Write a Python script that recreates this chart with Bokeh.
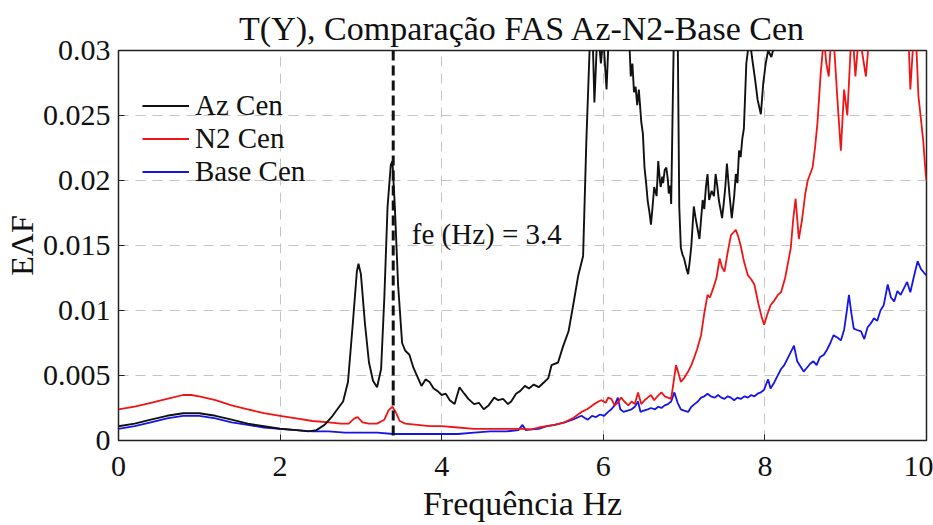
from bokeh.plotting import figure
from bokeh.models import Range1d, FixedTicker, Span, Label, Legend, LegendItem
from bokeh.embed import file_html
from bokeh.resources import INLINE

title_text = "T(Y), Comparação FAS Az-N2-Base Cen"
x_label = "Frequência Hz"
y_label = "EΛF"
series_names = ["Az Cen", "N2 Cen", "Base Cen"]
fe_value = 3.4
fe_text = "fe (Hz) = 3.4"

x_ticks = [0, 2, 4, 6, 8, 10]
y_ticks = [0, 0.005, 0.01, 0.015, 0.02, 0.025, 0.03]
y_tick_labels = ["0", "0.005", "0.01", "0.015", "0.02", "0.025", "0.03"]

az_freq = [0.0, 0.2, 0.4, 0.6, 0.8, 0.9, 1.0, 1.2, 1.4, 1.6, 1.8, 2.0, 2.2, 2.35, 2.45,
           2.55, 2.65, 2.72, 2.78, 2.84, 2.90, 2.95, 2.97, 3.00, 3.05, 3.10, 3.15, 3.20,
           3.25, 3.29, 3.33, 3.37, 3.39, 3.42, 3.46, 3.51, 3.55, 3.60, 3.65, 3.70, 3.75,
           3.80, 3.85, 3.90, 3.95, 4.00, 4.05, 4.10, 4.16, 4.22, 4.28, 4.33, 4.40, 4.46,
           4.52, 4.58, 4.65, 4.70, 4.76, 4.82, 4.86, 4.92, 4.97, 5.03, 5.08, 5.14, 5.20,
           5.27, 5.32, 5.36, 5.44, 5.50, 5.57, 5.63, 5.69, 5.75, 5.79, 5.83, 5.86, 5.89,
           5.93, 5.97, 6.00, 6.04, 6.08, 6.15, 6.25, 6.32, 6.34, 6.36, 6.38, 6.40, 6.42,
           6.44, 6.47, 6.49, 6.51, 6.53, 6.55, 6.57, 6.59, 6.61, 6.63, 6.66, 6.68, 6.70,
           6.71, 6.73, 6.74, 6.76, 6.78, 6.80, 6.81, 6.83, 6.84, 6.87, 6.89, 6.92, 6.94,
           6.96, 6.98, 7.00, 7.03, 7.05, 7.07, 7.09, 7.12, 7.14, 7.16, 7.19, 7.21, 7.23,
           7.25, 7.27, 7.29, 7.31, 7.34, 7.37, 7.39, 7.41, 7.43, 7.45, 7.47, 7.49, 7.51,
           7.53, 7.56, 7.59, 7.62, 7.64, 7.66, 7.68, 7.70, 7.72, 7.74, 7.77, 7.81, 7.84,
           7.88, 7.91, 7.95, 7.98, 8.01, 8.04, 8.08, 8.12, 8.16, 8.22, 8.40, 8.80, 10.0]
az_val = [0.0011, 0.0013, 0.0016, 0.0019, 0.0021, 0.0021, 0.0021, 0.0019, 0.0016, 0.0013,
          0.0011, 0.0009, 0.0008, 0.0007, 0.0008, 0.0012, 0.0019, 0.0025, 0.0030, 0.0045,
          0.0090, 0.0130, 0.0136, 0.0128, 0.0090, 0.0060, 0.0046, 0.0041, 0.0055, 0.0110,
          0.0180, 0.0212, 0.0215, 0.0180, 0.0120, 0.0075, 0.0069, 0.0066, 0.0056, 0.0049,
          0.0042, 0.0047, 0.0045, 0.0040, 0.0038, 0.0035, 0.0036, 0.0031, 0.0028, 0.0041,
          0.0036, 0.0032, 0.0028, 0.0029, 0.0024, 0.0027, 0.0033, 0.0031, 0.0032, 0.0028,
          0.0030, 0.0036, 0.0038, 0.0042, 0.0040, 0.0043, 0.0041, 0.0045, 0.0048, 0.0058,
          0.0060, 0.0072, 0.0084, 0.0105, 0.0127, 0.0142, 0.0230, 0.0300, 0.0330, 0.0260,
          0.0320, 0.0290, 0.0310, 0.0270, 0.0330, 0.0360, 0.0350, 0.0310, 0.0280, 0.0290,
          0.0268, 0.0272, 0.0258, 0.0270, 0.0245, 0.0236, 0.0210, 0.0198, 0.0184, 0.0176,
          0.0166, 0.0180, 0.0195, 0.0188, 0.0215, 0.0200, 0.0195, 0.0203, 0.0198, 0.0208,
          0.0210, 0.0200, 0.0190, 0.0196, 0.0182, 0.0300, 0.0340, 0.0320, 0.0180, 0.0148,
          0.0143, 0.0140, 0.0132, 0.0128, 0.0138, 0.0150, 0.0180, 0.0172, 0.0165, 0.0155,
          0.0170, 0.0185, 0.0178, 0.0195, 0.0205, 0.0185, 0.0192, 0.0188, 0.0205, 0.0196,
          0.0185, 0.0178, 0.0171, 0.0182, 0.0195, 0.0213, 0.0190, 0.0171, 0.0188, 0.0205,
          0.0198, 0.0223, 0.0218, 0.0232, 0.0240, 0.0290, 0.0310, 0.0295, 0.0277, 0.0262,
          0.0251, 0.0275, 0.0290, 0.0300, 0.0295, 0.0305, 0.0320, 0.0380, 0.0450, 0.0600]

n2_freq = [0.0, 0.2, 0.4, 0.6, 0.8, 0.9, 1.0, 1.2, 1.4, 1.6, 1.8, 2.0, 2.2, 2.4, 2.6,
           2.75, 2.85, 2.92, 2.96, 3.02, 3.10, 3.20, 3.29, 3.34, 3.39, 3.43, 3.48, 3.55,
           3.70, 3.85, 4.00, 4.20, 4.40, 4.60, 4.80, 5.00, 5.11, 5.20, 5.30, 5.40, 5.52,
           5.62, 5.73, 5.80, 5.89, 5.94, 5.98, 6.03, 6.06, 6.10, 6.14, 6.18, 6.22, 6.26,
           6.31, 6.35, 6.39, 6.43, 6.47, 6.51, 6.55, 6.59, 6.63, 6.67, 6.72, 6.76, 6.80,
           6.84, 6.87, 6.90, 6.93, 6.96, 7.00, 7.05, 7.09, 7.12, 7.16, 7.21, 7.25, 7.29,
           7.32, 7.36, 7.40, 7.44, 7.47, 7.50, 7.54, 7.58, 7.61, 7.64, 7.67, 7.70, 7.74,
           7.79, 7.83, 7.87, 7.92, 7.96, 7.99, 8.03, 8.07, 8.12, 8.16, 8.20, 8.25, 8.29,
           8.32, 8.35, 8.38, 8.42, 8.46, 8.50, 8.53, 8.56, 8.59, 8.62, 8.65, 8.69, 8.73,
           8.76, 8.79, 8.82, 8.86, 8.90, 8.94, 8.98, 9.02, 9.06, 9.09, 9.12, 9.16, 9.20,
           9.25, 9.29, 9.35, 9.50, 9.65, 9.75, 9.78, 9.80, 9.83, 9.87, 9.90, 9.93, 9.96,
           9.99, 10.0]
n2_val = [0.0024, 0.0026, 0.0029, 0.0032, 0.0035, 0.0035, 0.0034, 0.0031, 0.0027, 0.0024,
          0.0021, 0.0019, 0.0017, 0.0015, 0.0014, 0.0013, 0.0013, 0.0017, 0.0018, 0.0014,
          0.0013, 0.0013, 0.0016, 0.0023, 0.0026, 0.0022, 0.0015, 0.0013, 0.0012, 0.0011,
          0.0011, 0.0010, 0.0009, 0.0009, 0.0009, 0.0009, 0.00085, 0.0010, 0.0011, 0.0012,
          0.0014, 0.0017, 0.0022, 0.0024, 0.0028, 0.0030, 0.0031, 0.0029, 0.0033, 0.0032,
          0.0027, 0.0029, 0.0033, 0.0030, 0.0027, 0.0030, 0.0028, 0.0037, 0.0028, 0.0031,
          0.0033, 0.0035, 0.0031, 0.0034, 0.0037, 0.0034, 0.0033, 0.0032, 0.0045, 0.0058,
          0.0052, 0.0045, 0.0048, 0.0053, 0.0058, 0.0063, 0.0070, 0.0081, 0.0098, 0.0112,
          0.0110, 0.0117, 0.0125, 0.0140, 0.0133, 0.0130, 0.0145, 0.0158, 0.0160, 0.0162,
          0.0157, 0.0150, 0.0138, 0.0127, 0.0124, 0.0120, 0.0105, 0.0095, 0.0089, 0.0097,
          0.0104, 0.0108, 0.0112, 0.0114, 0.0125, 0.0138, 0.0148, 0.0170, 0.0186, 0.0155,
          0.0170, 0.0190, 0.0200, 0.0205, 0.0210, 0.0225, 0.0244, 0.0282, 0.0310, 0.0290,
          0.0280, 0.0310, 0.0300, 0.0260, 0.0223, 0.0270, 0.0250, 0.0300, 0.0310, 0.0280,
          0.0310, 0.0300, 0.0280, 0.0310, 0.0340, 0.0360, 0.0350, 0.0320, 0.0305, 0.0270,
          0.0300, 0.0310, 0.0265, 0.0248, 0.0230, 0.0205, 0.0200]

base_freq = [0.0, 0.2, 0.4, 0.6, 0.8, 0.9, 1.0, 1.2, 1.4, 1.6, 1.8, 2.0, 2.2, 2.4, 2.6,
             2.8, 3.0, 3.2, 3.4, 3.6, 3.8, 4.0, 4.2, 4.4, 4.6, 4.8, 4.95, 5.00, 5.04, 5.11,
             5.20, 5.30, 5.40, 5.52, 5.62, 5.73, 5.78, 5.81, 5.86, 5.91, 5.96, 6.01, 6.06,
             6.10, 6.14, 6.18, 6.21, 6.25, 6.30, 6.35, 6.39, 6.43, 6.46, 6.50, 6.55, 6.59,
             6.64, 6.68, 6.72, 6.76, 6.80, 6.84, 6.88, 6.92, 6.96, 7.00, 7.05, 7.09, 7.13,
             7.17, 7.21, 7.25, 7.29, 7.33, 7.38, 7.42, 7.46, 7.50, 7.54, 7.58, 7.62, 7.66,
             7.70, 7.75, 7.79, 7.83, 7.87, 7.91, 7.95, 7.99, 8.02, 8.04, 8.07, 8.11, 8.15,
             8.20, 8.24, 8.28, 8.32, 8.36, 8.40, 8.44, 8.48, 8.52, 8.56, 8.60, 8.64, 8.68,
             8.73, 8.77, 8.81, 8.85, 8.90, 8.94, 8.98, 9.01, 9.04, 9.07, 9.10, 9.14, 9.19,
             9.23, 9.27, 9.31, 9.35, 9.39, 9.43, 9.47, 9.52, 9.56, 9.60, 9.64, 9.68, 9.72,
             9.76, 9.80, 9.84, 9.89, 9.93, 9.97, 10.0]
base_val = [0.0009, 0.0011, 0.0014, 0.0017, 0.0019, 0.0019, 0.0019, 0.0017, 0.0014, 0.0012,
            0.0010, 0.0009, 0.0008, 0.0007, 0.0007, 0.0006, 0.0006, 0.0006, 0.0005, 0.0005,
            0.0005, 0.0005, 0.0005, 0.0006, 0.0007, 0.0007, 0.0008, 0.0012, 0.0008, 0.00085,
            0.0009, 0.0011, 0.0012, 0.0014, 0.0016, 0.0019, 0.0017, 0.0016, 0.0019, 0.0018,
            0.0020, 0.0019, 0.0022, 0.0024, 0.0027, 0.0033, 0.0024, 0.0022, 0.0023, 0.0024,
            0.0026, 0.0030, 0.0022, 0.0023, 0.0024, 0.0025, 0.0024, 0.0026, 0.0025, 0.0027,
            0.0028, 0.0030, 0.0037, 0.0029, 0.0024, 0.0023, 0.0022, 0.0026, 0.0028, 0.0030,
            0.0033, 0.0034, 0.0036, 0.0034, 0.0033, 0.0035, 0.0033, 0.0032, 0.0034, 0.0033,
            0.0031, 0.0033, 0.0032, 0.0034, 0.0033, 0.0035, 0.0034, 0.0036, 0.0037, 0.0039,
            0.0044, 0.0047, 0.0040, 0.0044, 0.0049, 0.0055, 0.0058, 0.0063, 0.0068, 0.0073,
            0.0061, 0.0057, 0.0053, 0.0056, 0.0059, 0.0061, 0.0058, 0.0064, 0.0066, 0.0070,
            0.0075, 0.0081, 0.0079, 0.0077, 0.0085, 0.0098, 0.0112, 0.0098, 0.0086, 0.0085,
            0.0084, 0.0078, 0.0087, 0.0090, 0.0094, 0.0092, 0.0100, 0.0104, 0.0120, 0.0110,
            0.0107, 0.0115, 0.0112, 0.0117, 0.0122, 0.0114, 0.0125, 0.0138, 0.0132, 0.0129,
            0.0127]

SERIF = "Liberation Serif"

p = figure(width=933, height=525, output_backend="svg", toolbar_location=None,
           x_range=Range1d(0, 10), y_range=Range1d(0, 0.03),
           min_border_left=116, min_border_right=7, min_border_top=50, min_border_bottom=85,
           background_fill_color="white", border_fill_color="white")

p.title.text = title_text
p.title.align = "center"
p.title.text_font = SERIF
p.title.text_font_size = "34px"
p.title.text_font_style = "normal"
p.title.text_color = "#111111"
p.title.standoff = 8

p.outline_line_color = "#222222"
p.outline_line_width = 1.5

for ax in (p.xaxis[0], p.yaxis[0]):
    ax.major_label_text_font = SERIF
    ax.major_label_text_font_size = "30px"
    ax.major_label_text_color = "#111111"
    ax.axis_label_text_font = SERIF
    ax.axis_label_text_font_style = "normal"
    ax.axis_label_text_color = "#111111"
    ax.major_tick_in = 6
    ax.major_tick_out = 0
    ax.minor_tick_line_color = None
    ax.axis_line_color = "#222222"
    ax.major_tick_line_color = "#222222"

p.xaxis.ticker = FixedTicker(ticks=x_ticks)
p.yaxis.ticker = FixedTicker(ticks=y_ticks)
p.yaxis.major_label_overrides = {t: l for t, l in zip(y_ticks, y_tick_labels)}
p.xaxis.axis_label = x_label
p.yaxis.axis_label = y_label
p.xaxis.axis_label_text_font_size = "34px"
p.yaxis.axis_label_text_font_size = "32px"
p.xaxis.major_label_standoff = 16
p.xaxis.axis_label_standoff = 6
p.yaxis.major_label_standoff = 8
p.yaxis.axis_label_standoff = 0

p.xgrid.grid_line_color = "#c4c4c4"
p.ygrid.grid_line_color = "#c4c4c4"
p.xgrid.grid_line_dash = "10 7"
p.ygrid.grid_line_dash = "10 7"
p.xgrid.grid_line_width = 1
p.ygrid.grid_line_width = 1

r_base = p.line(base_freq, base_val, line_color="#1515e6", line_width=1.8)
r_n2 = p.line(n2_freq, n2_val, line_color="#f01515", line_width=1.8)
r_az = p.line(az_freq, az_val, line_color="#111111", line_width=1.9)

vline = Span(location=fe_value, dimension="height", line_color="#111111",
             line_width=3, line_dash="10 5")
p.add_layout(vline)

p.add_layout(Label(x=3.63, y=0.0159, text=fe_text, text_font=SERIF,
                   text_font_size="29px", text_color="#111111", text_baseline="middle"))

legend = Legend(items=[LegendItem(label=series_names[0], renderers=[r_az]),
                       LegendItem(label=series_names[1], renderers=[r_n2]),
                       LegendItem(label=series_names[2], renderers=[r_base])],
                location=(24, 252), margin=0, padding=8, spacing=0,
                glyph_width=47, glyph_height=33, label_height=33, label_standoff=6,
                label_text_font=SERIF, label_text_font_size="29px",
                label_text_color="#111111",
                background_fill_alpha=0, border_line_color=None)
legend.item_background_fill_alpha = 0
p.add_layout(legend, "center")

open("out.html", "w").write(file_html(p, INLINE))
